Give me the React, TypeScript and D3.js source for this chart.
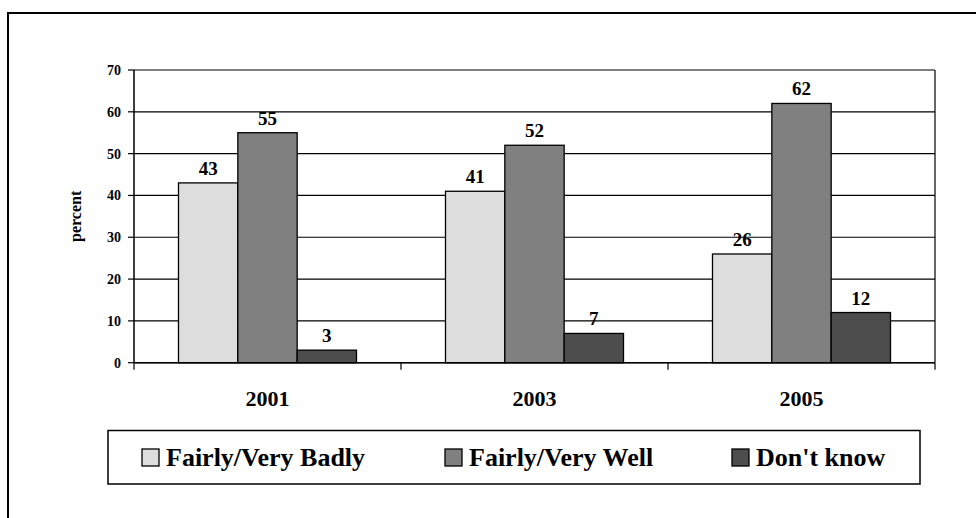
import React from "react";
import * as d3 from "d3";

const years = ["2001", "2003", "2005"];
const seriesNames = ["Fairly/Very Badly", "Fairly/Very Well", "Don't know"];
const badly = [43, 41, 26];
const well = [55, 52, 62];
const dontKnow = [3, 7, 12];
const yTicks = [0, 10, 20, 30, 40, 50, 60, 70];

const colors = ["#dddddd", "#808080", "#4d4d4d"];
const txt = { fontFamily: "'Liberation Serif', 'Times New Roman', 'DejaVu Serif', serif", fontWeight: 700 };

const W = 976;
const H = 518;
const left = 134;
const right = 935;
const top = 70;
const bottom = 362.7;

export default function App() {
  const values = [badly, well, dontKnow];

  const x0 = d3.scaleBand().domain(years).range([left, right]).padding(0);
  const groupPad = x0.bandwidth() / 6;
  const x1 = d3
    .scaleBand()
    .domain(seriesNames)
    .range([groupPad, x0.bandwidth() - groupPad])
    .padding(0);
  const y = d3.scaleLinear().domain([0, 70]).range([bottom, top]);

  const bounds = [left, ...years.map((yr) => (x0(yr) as number) + x0.bandwidth())];

  const legendX = [142, 445, 732];

  return (
    <svg
      width={W}
      height={H}
      style={{ position: "absolute", left: 0, top: 0, background: "#fff" }}
    >
      {/* outer frame, runs off the right and bottom */}
      <rect x={8} y={13} width={1000} height={600} fill="none" stroke="#000" strokeWidth={2} />

      {/* gridlines */}
      {yTicks.map((t) => (
        <line key={t} x1={left} x2={right} y1={y(t)} y2={y(t)} stroke="#000" strokeWidth={1.2} />
      ))}
      <line x1={right} x2={right} y1={top} y2={bottom} stroke="#000" strokeWidth={1.2} />

      {/* bars */}
      {years.map((yr, i) => (
        <g key={yr} transform={`translate(${x0(yr)},0)`}>
          {seriesNames.map((s, j) => (
            <rect
              key={s}
              x={x1(s)}
              y={y(values[j][i])}
              width={x1.bandwidth()}
              height={y(0) - y(values[j][i])}
              fill={colors[j]}
              stroke="#000"
              strokeWidth={1.3}
            />
          ))}
          {seriesNames.map((s, j) => (
            <text
              key={s + "l"}
              x={(x1(s) as number) + x1.bandwidth() / 2}
              y={y(values[j][i]) - 8}
              textAnchor="middle"
              fontSize={19}
              style={txt}
            >
              {values[j][i]}
            </text>
          ))}
        </g>
      ))}

      {/* y axis */}
      <line x1={left} x2={left} y1={top} y2={bottom} stroke="#000" strokeWidth={1.5} />
      {yTicks.map((t) => (
        <g key={"yt" + t}>
          <line x1={left - 6} x2={left} y1={y(t)} y2={y(t)} stroke="#000" strokeWidth={1.2} />
          <text x={121} y={y(t) + 5} textAnchor="end" fontSize={14} style={txt}>
            {t}
          </text>
        </g>
      ))}
      <text
        transform={`translate(81,${(top + bottom) / 2}) rotate(-90)`}
        textAnchor="middle"
        fontSize={16}
        style={txt}
      >
        percent
      </text>

      {/* x axis */}
      <line x1={left} x2={right} y1={bottom} y2={bottom} stroke="#000" strokeWidth={1.5} />
      {bounds.map((b, i) => (
        <line key={"xt" + i} x1={b} x2={b} y1={bottom} y2={bottom + 7} stroke="#000" strokeWidth={1.2} />
      ))}
      {years.map((yr) => (
        <text
          key={"xl" + yr}
          x={(x0(yr) as number) + x0.bandwidth() / 2}
          y={406}
          textAnchor="middle"
          fontSize={22}
          style={txt}
        >
          {yr}
        </text>
      ))}

      {/* legend */}
      <rect x={108} y={430.5} width={812} height={53.5} fill="#fff" stroke="#000" strokeWidth={1.5} />
      {seriesNames.map((s, j) => (
        <g key={"lg" + s}>
          <rect x={legendX[j]} y={449} width={17} height={17} fill={colors[j]} stroke="#000" strokeWidth={1.3} />
          <text x={legendX[j] + 24} y={466} fontSize={26} style={txt}>
            {s}
          </text>
        </g>
      ))}
    </svg>
  );
}
